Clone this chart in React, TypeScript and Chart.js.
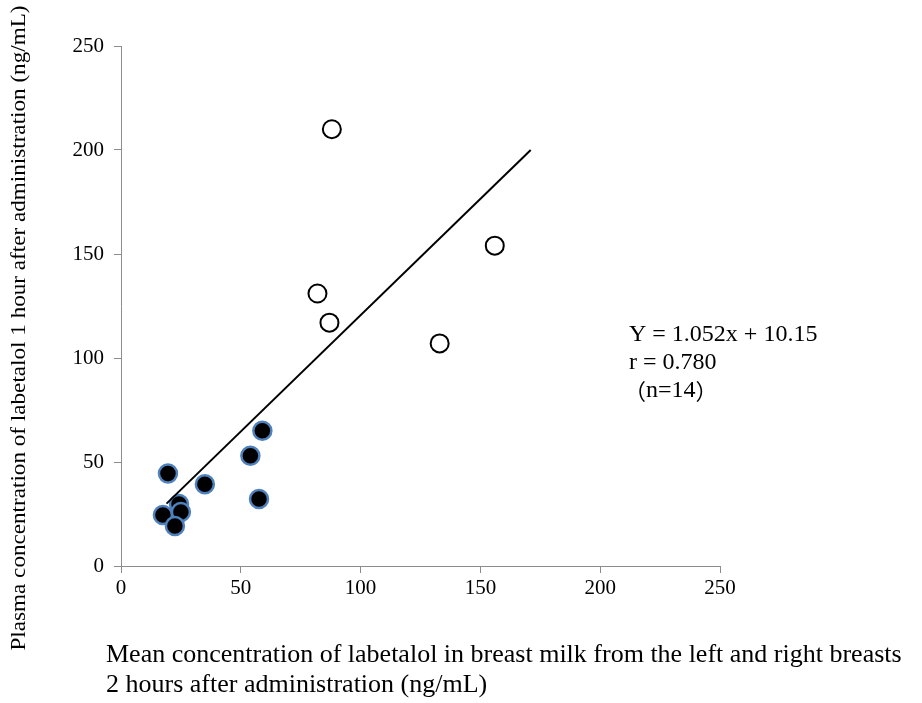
import React, { useEffect, useRef } from "react";
import { Chart, registerables } from "chart.js";

Chart.register(...registerables);

// Open circles (upper group)
const openX = [88, 156, 82, 87, 133];
const openY = [210, 154, 131, 117, 107];
// Filled circles (lower group)
const filledX = [59, 54, 19.6, 35, 57.6, 17.5, 24.2, 25, 22.5];
const filledY = [65, 53, 44.5, 39.3, 32.2, 24.5, 29.8, 26, 19.2];
// Regression line end points
const lineX = [19, 171];
const lineY = [30, 200];

const xTicks = [0, 50, 100, 150, 200, 250];
const yTicks = [0, 50, 100, 150, 200, 250];

const yTitle = "Plasma concentration of labetalol 1 hour after administration (ng/mL)";
const xTitle1 = "Mean concentration of labetalol in breast milk from the left and right breasts";
const xTitle2 = "2 hours after administration (ng/mL)";
const noteLines = ["Y = 1.052x + 10.15", "r = 0.780", "n=14"];

const FONT = "'Liberation Serif', 'Times New Roman', serif";
const CJK = "'Noto Sans CJK JP'";

const textPlugin = {
  id: "texts",
  afterDraw(chart: any) {
    const ctx = chart.ctx;
    ctx.save();
    ctx.fillStyle = "#000";
    ctx.textBaseline = "middle";
    ctx.textAlign = "left";
    ctx.font = `24px ${FONT}`;
    ctx.fillText(noteLines[0], 629, 335);
    ctx.fillText(noteLines[1], 629, 363);
    // (n=14) with full-width parentheses
    let x = 624;
    ctx.font = `22px ${CJK}`;
    ctx.fillText("\uFF08", x, 391);
    x += ctx.measureText("\uFF08").width;
    ctx.font = `24px ${FONT}`;
    ctx.fillText(noteLines[2], x, 391);
    x += ctx.measureText(noteLines[2]).width;
    ctx.font = `22px ${CJK}`;
    ctx.fillText("\uFF09", x, 391);

    ctx.font = `26px ${FONT}`;
    ctx.fillText(xTitle1, 106, 655);
    ctx.fillText(xTitle2, 106, 685);
    ctx.restore();

    ctx.save();
    ctx.fillStyle = "#000";
    ctx.font = `21px ${FONT}`;
    ctx.textBaseline = "middle";
    ctx.textAlign = "center";
    ctx.translate(19, 328);
    ctx.rotate(-Math.PI / 2);
    const w = ctx.measureText(yTitle).width;
    const target = 645;
    ctx.scale(target / w, 1);
    ctx.fillText(yTitle, 0, 0);
    ctx.restore();
  },
};

export default function App() {
  const ref = useRef<HTMLCanvasElement>(null);
  useEffect(() => {
    if (!ref.current) return;
    const chart = new Chart(ref.current, {
      type: "scatter",
      data: {
        datasets: [
          {
            type: "line",
            data: lineX.map((x, i) => ({ x, y: lineY[i] })),
            borderColor: "#000",
            borderWidth: 2,
            pointRadius: 0,
            fill: false,
            showLine: true,
          } as any,
          {
            data: openX.map((x, i) => ({ x, y: openY[i] })),
            backgroundColor: "#fff",
            borderColor: "#000",
            borderWidth: 2,
            pointRadius: 9,
          },
          {
            data: filledX.map((x, i) => ({ x, y: filledY[i] })),
            backgroundColor: "#000",
            borderColor: "#4f81bd",
            borderWidth: 2.5,
            pointRadius: 9,
          },
        ],
      },
      options: {
        responsive: false,
        animation: false,
        layout: { padding: { left: 0, top: 46, right: 202, bottom: 0 } },
        plugins: { legend: { display: false }, tooltip: { enabled: false } },
        scales: {
          x: {
            type: "linear",
            min: 0,
            max: 250,
            afterBuildTicks: (s: any) => {
              s.ticks = xTicks.map((v) => ({ value: v }));
            },
            afterFit: (s: any) => {
              s.height = 703 - 566;
            },
            grid: { drawOnChartArea: false, tickLength: 7, color: "#8c8c8c" },
            border: { color: "#8c8c8c", width: 1 },
            ticks: { color: "#000", font: { family: FONT, size: 21 }, padding: 3 },
          },
          y: {
            type: "linear",
            min: 0,
            max: 250,
            afterBuildTicks: (s: any) => {
              s.ticks = yTicks.map((v) => ({ value: v }));
            },
            afterFit: (s: any) => {
              s.width = 121;
            },
            grid: { drawOnChartArea: false, tickLength: 7, color: "#8c8c8c" },
            border: { color: "#8c8c8c", width: 1 },
            ticks: { color: "#000", font: { family: FONT, size: 21 }, padding: 10 },
          },
        },
      },
      plugins: [textPlugin],
    });
    return () => chart.destroy();
  }, []);
  return (
    <div style={{ position: "absolute", left: 0, top: 0, width: 922, height: 703, background: "#fff" }}>
      <canvas ref={ref} width={922} height={703} />
    </div>
  );
}
